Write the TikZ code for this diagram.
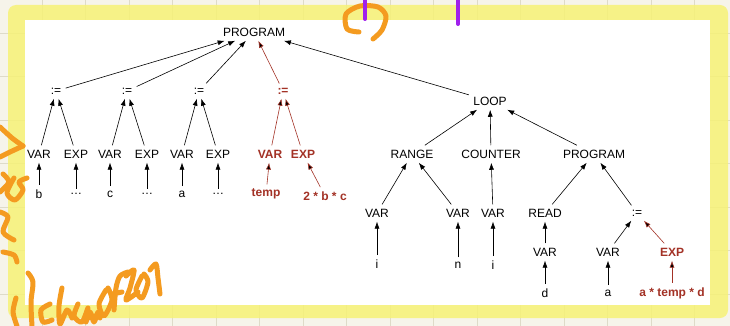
\documentclass[tikz,border=0pt]{standalone}
\usepackage{fontspec}
\setmainfont{Liberation Sans}
\usetikzlibrary{arrows.meta}

\definecolor{paper}{RGB}{246,244,234}
\definecolor{gridline}{RGB}{222,219,200}
\definecolor{marker}{RGB}{246,242,118}
\definecolor{hotred}{RGB}{163,50,38}
\definecolor{pen}{RGB}{244,155,32}
\definecolor{ink}{RGB}{160,32,236}

\begin{document}
\begin{tikzpicture}[x=1pt, y=-1pt,
    tok/.style={font=\fontsize{12}{14}\selectfont, inner sep=3pt, outer sep=1.5pt},
    hot/.style={tok, text=hotred, font=\fontsize{12}{14}\selectfont\bfseries},
    up/.style={-{Latex[length=7pt,width=5pt]}, line width=0.6pt},
    hotup/.style={up, draw=hotred},
    scrawl/.style={draw=pen, line width=5pt, line cap=round, line join=round}]
  \useasboundingbox (0,0) rectangle (730,326);

  % paper, grid and highlighted frame
  \fill[paper] (0,0) rectangle (730,326);
  \foreach \gx in {42,85.5,...,730} \draw[gridline, line width=0.8pt] (\gx,0) -- (\gx,326);
  \foreach \gy in {33,76.5,...,326} \draw[gridline, line width=0.8pt] (0,\gy) -- (730,\gy);
  \fill[marker, opacity=0.85, rounded corners=8pt] (8,5) rectangle (728,318);
  \fill[white] (25,20) rectangle (710,305);

  % root
  \node[tok] (prog) at (254,32) {PROGRAM};

  % assignments
  \node[tok] (as1) at (56,91) {:=};
  \node[tok] (as2) at (127,91) {:=};
  \node[tok] (as3) at (199,91) {:=};
  \node[hot] (as4) at (283,91) {:=};
  \node[tok] (loop) at (490,101) {LOOP};

  \node[tok] (var1) at (39,154) {VAR};
  \node[tok] (exp1) at (76,154) {EXP};
  \node[tok] (var2) at (110,154) {VAR};
  \node[tok] (exp2) at (147,154) {EXP};
  \node[tok] (var3) at (182,154) {VAR};
  \node[tok] (exp3) at (218,154) {EXP};
  \node[hot] (var4) at (270,154) {VAR};
  \node[hot] (exp4) at (303,154) {EXP};

  \node[tok] (b) at (39,194) {b};
  \node[tok] (dots1) at (76,194) {\ldots};
  \node[tok] (c) at (110,194) {c};
  \node[tok] (dots2) at (147,194) {\ldots};
  \node[tok] (a1) at (182,194) {a};
  \node[tok] (dots3) at (218,194) {\ldots};
  \node[hot] (temp) at (266,194) {temp};
  \node[hot] (bc) at (325,196) {2 * b * c};

  % loop subtree
  \node[tok] (range) at (412,154) {RANGE};
  \node[tok] (counter) at (491,154) {COUNTER};
  \node[tok] (prog2) at (594,154) {PROGRAM};

  \node[tok] (rv1) at (377,213) {VAR};
  \node[tok] (rv2) at (458,213) {VAR};
  \node[tok] (cv) at (493,213) {VAR};
  \node[tok] (read) at (545,213) {READ};
  \node[tok] (as5) at (637,213) {:=};

  \node[tok] (i1) at (377,264) {i};
  \node[tok] (n) at (458,265) {n};
  \node[tok] (i2) at (493,265) {i};

  \node[tok] (rdv) at (545,252) {VAR};
  \node[tok] (av) at (608,252) {VAR};
  \node[hot] (aexp) at (672,252) {EXP};

  \node[tok] (d) at (545,293) {d};
  \node[tok] (a2) at (608,293) {a};
  \node[hot] (atd) at (672,293) {a * temp * d};

  \path[up]
    (as1) edge (prog)
    (as2) edge (prog)
    (as3) edge (prog)
    (loop) edge (prog)
    (var1) edge (as1) (exp1) edge (as1)
    (var2) edge (as2) (exp2) edge (as2)
    (var3) edge (as3) (exp3) edge (as3)
    (b) edge (var1) (dots1) edge (exp1)
    (c) edge (var2) (dots2) edge (exp2)
    (a1) edge (var3) (dots3) edge (exp3)
    (range) edge (loop) (counter) edge (loop) (prog2) edge (loop)
    (rv1) edge (range) (rv2) edge (range)
    (cv) edge (counter)
    (i1) edge (rv1) (n) edge (rv2) (i2) edge (cv)
    (read) edge (prog2) (as5) edge (prog2)
    (rdv) edge (read) (d) edge (rdv)
    (av) edge (as5) (a2) edge (av);

  \path[hotup]
    (as4) edge (prog)
    (var4) edge (as4) (exp4) edge (as4)
    (temp) edge (var4) (bc) edge (exp4)
    (aexp) edge (as5) (atd) edge (aexp);

  % pen marks on top
  \draw[scrawl] plot[smooth] coordinates {(359,32) (347,29) (346,14) (360,6) (378,7) (386,16) (382,30) (373,39)};
  \draw[draw=ink, line width=4pt, line cap=round] (365,0) -- (365,19);
  \draw[draw=ink, line width=4pt, line cap=round] (458,0) -- (458,24);
  \draw[scrawl] plot[smooth] coordinates {(0,127) (12,138) (23,146)};
  \draw[scrawl] plot[smooth] coordinates {(23,146) (10,152) (0,157)};
  \draw[scrawl] plot[smooth] coordinates {(3,174) (9,182) (0,192)};
  \draw[scrawl] plot[smooth] coordinates {(14,178) (7,193) (15,200) (23,190) (19,182) (27,178)};
  \draw[scrawl] plot[smooth] coordinates {(0,212) (8,217) (3,232) (14,240)};
  \draw[scrawl] plot[smooth] coordinates {(3,252) (14,255) (17,262)};
  \draw[scrawl] plot[smooth] coordinates {(28,273) (33,282) (31,302) (32,326)};
  \draw[scrawl] plot[smooth] coordinates {(16,298) (13,312) (17,326)};
  \draw[scrawl] plot[smooth] coordinates {(50,304) (41,310) (43,322) (52,320)};
  \draw[scrawl] plot[smooth] coordinates {(62,288) (59,306) (60,324) (67,310) (72,318)};
  \draw[scrawl] plot[smooth] coordinates {(78,304) (74,316) (82,322) (88,308) (86,318) (94,316)};
  \draw[scrawl] plot[smooth] coordinates {(86,322) (90,312) (94,322) (98,312) (100,318)};
  \draw[scrawl] plot[smooth] coordinates {(106,290) (99,304) (104,316) (112,300) (108,288)};
  \draw[scrawl] plot[smooth] coordinates {(114,310) (116,288) (120,276) (128,272)};
  \draw[scrawl] plot[smooth] coordinates {(112,294) (122,292)};
  \draw[scrawl] plot[smooth] coordinates {(126,276) (134,270) (130,288) (126,300) (138,292)};
  \draw[scrawl] plot[smooth] coordinates {(142,276) (136,290) (142,298) (148,282) (144,274)};
  \draw[scrawl] plot[smooth] coordinates {(150,270) (156,264) (158,278) (160,294)};
\end{tikzpicture}
\end{document}
